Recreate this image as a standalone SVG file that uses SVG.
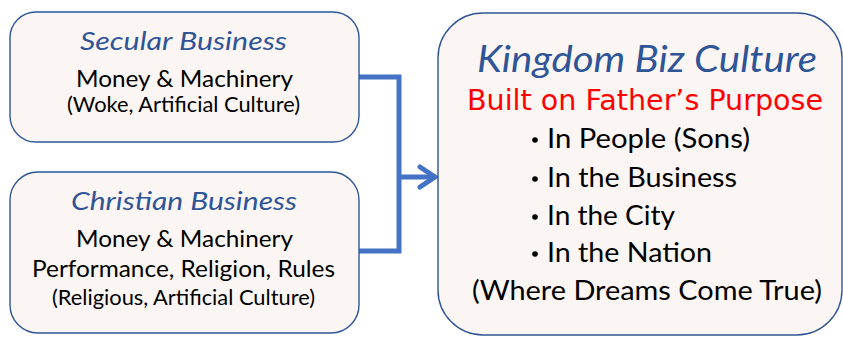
<svg xmlns="http://www.w3.org/2000/svg" width="843" height="339" viewBox="0 0 843 339">
<style>
.box{fill:#FBF6F3;stroke:#2F5597;stroke-width:1.4}
.t{font-family:"Lato","Open Sans","Liberation Sans",sans-serif;fill:#000;text-anchor:start}
.h{font-family:"Lato","Open Sans","Liberation Sans",sans-serif;font-style:italic;fill:#2F5597}
.r{font-family:"DejaVu Sans","Liberation Sans",sans-serif;fill:#FF0000}
.c{fill:none;stroke:#4472C4;stroke-width:5;stroke-linejoin:miter}
.b{fill:#000}
</style>
<rect width="843" height="339" fill="#fff"/>
<g id="connectors">
<polyline class="c" points="359,77 399,77 399,251 359,251"/>
<line class="c" x1="399" y1="177" x2="434" y2="177"/>
<polyline class="c" points="420,167 435,177 420,187" stroke-linecap="round" stroke-linejoin="round"/>
</g>
<g id="secular">
<rect class="box" x="10" y="12" width="349" height="130" rx="26"/>
<text class="h" x="80" y="50" font-size="26" textLength="207" lengthAdjust="spacingAndGlyphs">Secular Business</text>
<text class="t" x="76" y="87" font-size="24" textLength="217" lengthAdjust="spacingAndGlyphs">Money &amp; Machinery</text>
<text class="t" x="67" y="112" font-size="21" textLength="233" lengthAdjust="spacingAndGlyphs">(Woke, Artificial Culture)</text>
</g>
<g id="christian">
<rect class="box" x="10" y="172" width="349" height="161" rx="28"/>
<text class="h" x="71" y="210" font-size="26" textLength="226" lengthAdjust="spacingAndGlyphs">Christian Business</text>
<text class="t" x="76" y="247" font-size="24" textLength="217" lengthAdjust="spacingAndGlyphs">Money &amp; Machinery</text>
<text class="t" x="32" y="277" font-size="24" textLength="303" lengthAdjust="spacingAndGlyphs">Performance, Religion, Rules</text>
<text class="t" x="52" y="305" font-size="21" textLength="263" lengthAdjust="spacingAndGlyphs">(Religious, Artificial Culture)</text>
</g>
<g id="kingdom">
<rect class="box" x="438" y="13" width="404" height="322" rx="45"/>
<text class="h" x="477" y="72" font-size="37" textLength="340" lengthAdjust="spacingAndGlyphs">Kingdom Biz Culture</text>
<text class="r" x="467" y="110" font-size="28" textLength="356" lengthAdjust="spacingAndGlyphs">Built on Father’s Purpose</text>
<circle class="b" cx="535" cy="140" r="2.8"/>
<text class="t" x="547" y="148" font-size="26" textLength="203" lengthAdjust="spacingAndGlyphs">In People (Sons)</text>
<circle class="b" cx="535" cy="179" r="2.8"/>
<text class="t" x="547" y="187" font-size="26" textLength="190" lengthAdjust="spacingAndGlyphs">In the Business</text>
<circle class="b" cx="535" cy="217" r="2.8"/>
<text class="t" x="547" y="225" font-size="26" textLength="128" lengthAdjust="spacingAndGlyphs">In the City</text>
<circle class="b" cx="535" cy="254" r="2.8"/>
<text class="t" x="547" y="262" font-size="26" textLength="165" lengthAdjust="spacingAndGlyphs">In the Nation</text>
<text class="t" x="472" y="300" font-size="27" textLength="350" lengthAdjust="spacingAndGlyphs">(Where Dreams Come True)</text>
</g>
</svg>
